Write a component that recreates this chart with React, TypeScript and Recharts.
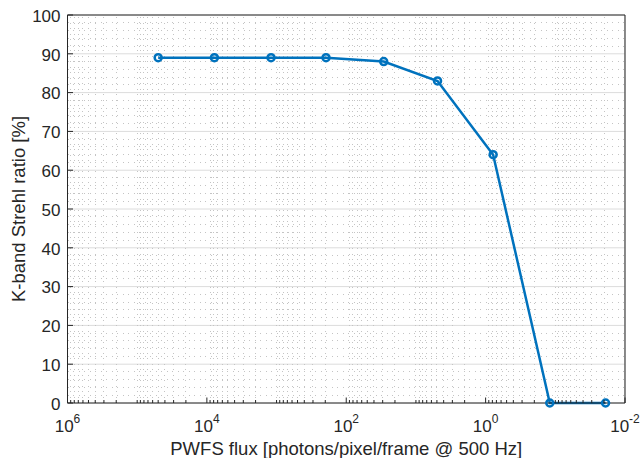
import React from 'react';
import { LineChart, Line, XAxis, YAxis, CartesianGrid, Label, ReferenceLine } from 'recharts';

// flux values, Strehl in percent
const FLUX = [5e4, 7.8e3, 1.2e3, 195, 29, 4.9, 0.78, 0.12, 0.019];
const STREHL = [89, 89, 89, 89, 88, 83, 64, 0, 0];

const X_DOMAIN = [0.01, 1e6];
const X_MAJOR = [1e6, 1e4, 1e2, 1, 1e-2];
const X_DECADES = [-2, -1, 0, 1, 2, 3, 4, 5];
const Y_MAJOR = [0, 10, 20, 30, 40, 50, 60, 70, 80, 90, 100];
const Y_MINOR_STEP = 2;

const X_TITLE = 'PWFS flux [photons/pixel/frame @ 500 Hz]';
const Y_TITLE = 'K-band Strehl ratio [%]';

const FONT = '"Liberation Sans", Arial, Helvetica, sans-serif';
const INK = '#262626';
const BLUE = '#0072BD';
const MINOR_GRID = '#c4c4c4';
const THIN = 0.01; // near-zero size so the box-edge axes render without taking room

const isMajorX = (v: number) => X_MAJOR.some((m) => Math.abs(v - m) <= m * 1e-9);
const X_MINOR = X_DECADES.flatMap((e) => [1, 2, 3, 4, 5, 6, 7, 8, 9].map((k) => k * Math.pow(10, e))).filter(
  (v) => !isMajorX(v)
);
const X_ALL = [...X_MAJOR, ...X_MINOR];
const Y_MINOR: number[] = [];
for (let v = 0; v <= 100; v += Y_MINOR_STEP) if (v % 10 !== 0) Y_MINOR.push(v);

const data = FLUX.map((flux, i) => ({ flux, strehl: STREHL[i] }));

const XTick = (props: any) => {
  const { x, y, payload, side } = props;
  const v = payload.value as number;
  const major = isMajorX(v);
  const len = major ? 5.5 : 3;
  const dir = side === 'top' ? 1 : -1;
  const exp = Math.round(Math.log10(v));
  return (
    <g>
      <line x1={x} x2={x} y1={y} y2={y + dir * len} stroke={INK} strokeWidth={1} />
      {side === 'bottom' && major && (
        <text x={x} y={y + 28.5} textAnchor="middle" fill={INK} fontSize={17} fontFamily={FONT}>
          10
          <tspan dy={-9} fontSize={12}>
            {exp}
          </tspan>
        </text>
      )}
    </g>
  );
};

const YTick = (props: any) => {
  const { x, y, payload, side } = props;
  const dir = side === 'right' ? -1 : 1;
  return (
    <g>
      <line x1={x} x2={x + dir * 5.5} y1={y} y2={y} stroke={INK} strokeWidth={1} />
      {side === 'left' && (
        <text x={x - 7} y={y} dy="0.4em" textAnchor="end" fill={INK} fontSize={17} fontFamily={FONT}>
          {payload.value}
        </text>
      )}
    </g>
  );
};

const Marker = (props: any) => {
  const { cx, cy, index } = props;
  return <circle key={index} cx={cx} cy={cy} r={3.5} fill="none" stroke={BLUE} strokeWidth={2.5} />;
};

export default function App() {
  return (
    <div style={{ position: 'absolute', left: 0, top: 0, width: 641, height: 458, background: '#fff' }}>
      <LineChart width={641} height={458} data={data} margin={{ top: 15, right: 16, bottom: 0, left: 0 }}>
        <XAxis xAxisId="gmaj" hide height={0} type="number" scale="log" domain={X_DOMAIN} reversed allowDataOverflow ticks={X_MAJOR} interval={0} />

        <CartesianGrid xAxisId="gmaj" yAxisId="main" stroke="#dcdcdc" />

        {X_MINOR.map((v) => (
          <ReferenceLine
            key={`mx${v}`}
            xAxisId="main"
            yAxisId="main"
            x={v}
            stroke={MINOR_GRID}
            strokeDasharray="1 4.5"
            shapeRendering="crispEdges"
          />
        ))}
        {Y_MINOR.map((v) => (
          <ReferenceLine
            key={`my${v}`}
            xAxisId="main"
            yAxisId="main"
            y={v}
            stroke={MINOR_GRID}
            strokeDasharray="1 4.5"
            shapeRendering="crispEdges"
          />
        ))}

        <XAxis
          xAxisId="main"
          dataKey="flux"
          type="number"
          scale="log"
          domain={X_DOMAIN}
          reversed
          allowDataOverflow
          ticks={X_ALL}
          interval={0}
          height={55}
          tickSize={0}
          tickMargin={0}
          tickLine={false}
          axisLine={{ stroke: INK }}
          tick={(p: any) => <XTick {...p} side="bottom" />}
        >
          <Label
            content={(p: any) => {
              const vb = p.viewBox;
              return (
                <text x={vb.x + vb.width / 2} y={vb.y + 52} textAnchor="middle" fill={INK} fontSize={18.5} fontFamily={FONT}>
                  {X_TITLE}
                </text>
              );
            }}
          />
        </XAxis>
        <XAxis
          xAxisId="top"
          orientation="top"
          type="number"
          scale="log"
          domain={X_DOMAIN}
          reversed
          allowDataOverflow
          ticks={X_ALL}
          interval={0}
          height={THIN}
          tickSize={0}
          tickMargin={0}
          tickLine={false}
          axisLine={{ stroke: INK }}
          tick={(p: any) => <XTick {...p} side="top" />}
        />
        <YAxis
          yAxisId="main"
          type="number"
          domain={[0, 100]}
          ticks={Y_MAJOR}
          interval={0}
          width={67.5}
          tickSize={0}
          tickMargin={0}
          tickLine={false}
          axisLine={{ stroke: INK }}
          tick={(p: any) => <YTick {...p} side="left" />}
        >
          <Label
            content={(p: any) => {
              const vb = p.viewBox;
              const cx = vb.x + 19;
              const cy = vb.y + vb.height / 2;
              return (
                <text
                  x={cx}
                  y={cy}
                  transform={`rotate(-90 ${cx} ${cy})`}
                  textAnchor="middle"
                  dominantBaseline="central"
                  fill={INK}
                  fontSize={18.5}
                  fontFamily={FONT}
                >
                  {Y_TITLE}
                </text>
              );
            }}
          />
        </YAxis>
        <YAxis
          yAxisId="right"
          orientation="right"
          type="number"
          domain={[0, 100]}
          ticks={Y_MAJOR}
          interval={0}
          width={THIN}
          tickSize={0}
          tickMargin={0}
          tickLine={false}
          axisLine={{ stroke: INK }}
          tick={(p: any) => <YTick {...p} side="right" />}
        />

        <Line
          xAxisId="main"
          yAxisId="main"
          dataKey="strehl"
          stroke={BLUE}
          strokeWidth={2.5}
          dot={<Marker />}
          activeDot={false}
          isAnimationActive={false}
        />
      </LineChart>
    </div>
  );
}
